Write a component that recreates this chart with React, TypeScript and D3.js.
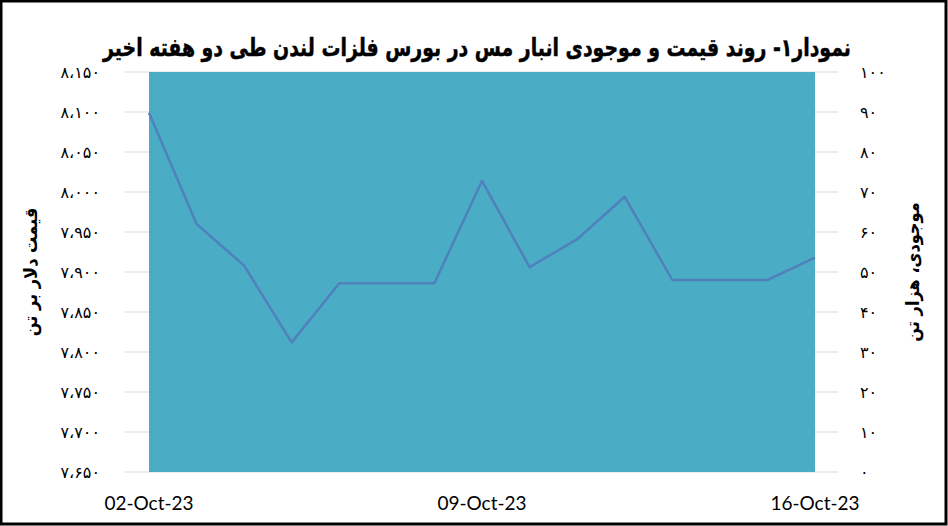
import React from "react";
import * as d3 from "d3";

const dates = [
  "2023-10-02", "2023-10-03", "2023-10-04", "2023-10-05", "2023-10-06",
  "2023-10-07", "2023-10-08", "2023-10-09", "2023-10-10", "2023-10-11",
  "2023-10-12", "2023-10-13", "2023-10-14", "2023-10-15", "2023-10-16",
];
const priceValues = [8099, 7960, 7908, 7812, 7886, 7886, 7886, 8014, 7906, 7941, 7994, 7890, 7890, 7890, 7918];
const inventoryValues = [100, 100, 100, 100, 100, 100, 100, 100, 100, 100, 100, 100, 100, 100, 100];
const xTickDates = ["2023-10-02", "2023-10-09", "2023-10-16"];
const xTickLabels = ["02-Oct-23", "09-Oct-23", "16-Oct-23"];
const priceTicks = [7650, 7700, 7750, 7800, 7850, 7900, 7950, 8000, 8050, 8100, 8150];
const inventoryTicks = [0, 10, 20, 30, 40, 50, 60, 70, 80, 90, 100];
const title = "نمودار۱- روند قیمت و موجودی انبار مس در بورس فلزات لندن طی دو هفته اخیر";
const leftTitle = "قیمت دلار بر تن";
const rightTitle = "موجودی، هزار تن";

const W = 948;
const H = 526;
const PLOT_TOP = 72;
const PLOT_BOTTOM = 472;
const GRID_LEFT = 125;
const GRID_RIGHT = 838;
const X_LEFT = 149;
const X_RIGHT = 815;

const fa = "۰۱۲۳۴۵۶۷۸۹";
function toPersian(n: number): string {
  const s = d3.format(",")(n).replace(/,/g, "،");
  return s.replace(/[0-9]/g, (c) => fa[+c]);
}

export default function App() {
  const parse = d3.utcParse("%Y-%m-%d");
  const dts = dates.map((d) => parse(d) as Date);
  const x = d3.scaleUtc().domain([dts[0], dts[dts.length - 1]]).range([X_LEFT, X_RIGHT]);
  const yL = d3.scaleLinear().domain([7650, 8150]).range([PLOT_BOTTOM, PLOT_TOP]);
  const yR = d3.scaleLinear().domain([0, 100]).range([PLOT_BOTTOM, PLOT_TOP]);

  const area = d3
    .area<number>()
    .x((_, i) => x(dts[i]))
    .y0(yR(0))
    .y1((d) => yR(Math.min(d, 100)));
  const line = d3
    .line<number>()
    .x((_, i) => x(dts[i]))
    .y((d) => yL(d));

  const arFont = "'DejaVu Sans', sans-serif";
  const arCond = "'DejaVu Sans Condensed', 'DejaVu Sans', sans-serif";

  return (
    <svg
      width={W}
      height={H}
      style={{ position: "absolute", left: 0, top: 0, background: "#fff" }}
    >
      <rect x={1} y={1} width={W - 3} height={H - 3} fill="#fff" stroke="#000" strokeWidth={3} />
      <text
        transform="translate(477,56) scale(0.955,1.12)"
        textAnchor="middle"
        direction="rtl"
        fontFamily={arCond}
        fontStretch="condensed"
        fontWeight="bold"
        fontSize={22}
        fill="#000"
        stroke="#000"
        strokeWidth={0.4}
      >
        {title}
      </text>
      {priceTicks.map((t) => (
        <line key={"g" + t} x1={GRID_LEFT} x2={GRID_RIGHT} y1={yL(t)} y2={yL(t)} stroke="#d9d9d9" strokeWidth={1} />
      ))}
      <path d={area(inventoryValues) || ""} fill="#4BACC6" />
      <path d={line(priceValues) || ""} fill="none" stroke="#4F81BD" strokeWidth={2.5} strokeLinejoin="round" />
      {priceTicks.map((t) => (
        <text key={"l" + t} x={100} y={yL(t) + 6} textAnchor="end" fontFamily={arFont} fontSize={16} fill="#000" direction="ltr">
          {toPersian(t)}
        </text>
      ))}
      {inventoryTicks.map((t) => (
        <text key={"r" + t} x={860} y={yR(t) + 6} textAnchor="start" fontFamily={arFont} fontSize={16} fill="#000" direction="ltr">
          {toPersian(t)}
        </text>
      ))}
      {xTickDates.map((d, i) => (
        <text key={"x" + d} x={x(parse(d) as Date)} y={510} textAnchor="middle" fontFamily="Lato, sans-serif" fontSize={19} fill="#000">
          {xTickLabels[i]}
        </text>
      ))}
      <text
        transform={`translate(37,272) rotate(-90)`}
        textAnchor="middle"
        direction="rtl"
        fontFamily={arCond}
        fontStretch="condensed"
        fontWeight="bold"
        fontSize={18}
        fill="#000"
      >
        {leftTitle}
      </text>
      <text
        transform={`translate(919,272) rotate(-90)`}
        textAnchor="middle"
        direction="rtl"
        fontFamily={arCond}
        fontStretch="condensed"
        fontWeight="bold"
        fontSize={18}
        fill="#000"
      >
        {rightTitle}
      </text>
    </svg>
  );
}
